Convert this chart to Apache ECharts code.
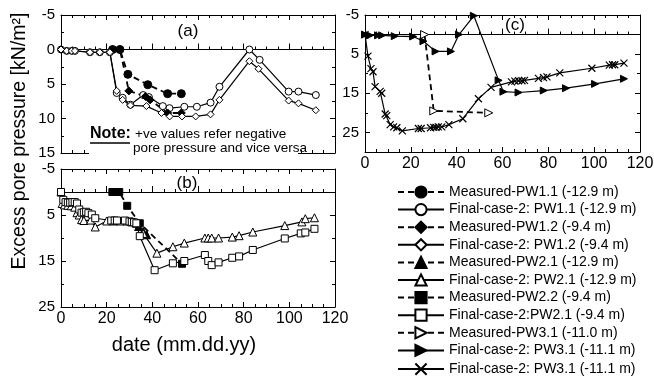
<!DOCTYPE html>
<html>
<head>
<meta charset="utf-8">
<script src="https://cdn.jsdelivr.net/npm/echarts@6/dist/echarts.min.js"></script>
<style>
  html, body { margin: 0; padding: 0; background: #fff; }
  #chart { width: 654px; height: 379px; }
</style>
</head>
<body>
<div id="chart"></div>
<script>
// tick labels
const xTicks = [0, 20, 40, 60, 80, 100, 120];
const yTicksA = [-5, 0, 5, 10, 15];
const yTicksB = [-5, 5, 15, 25];
const yTicksC = [-5, 5, 15, 25];
const yMaxC = 30;

// panel (a)
const measuredPW11 = [[22.6, 0], [25.8, 0], [29.3, 3.6], [38, 5.1], [46.7, 6.4], [52.7, 6.4]];
const finalPW11 = [[0, 0], [2.5, 0.2], [4.7, 0.2], [6.1, 0.2], [12.7, 0.4], [17, 0.4], [21.4, 0.4],
  [24.4, 6.3], [27, 7], [30.4, 8], [36, 6.6], [38.5, 6.9], [44.6, 8.2], [47.5, 8.5], [54, 8.3],
  [59.5, 8.3], [65.5, 7.7], [69.4, 5.4], [82.5, 0], [87, 1.5], [99.7, 6.1], [104, 6.1], [111.6, 6.6]];
const measuredPW12 = [[22.6, 0], [25.8, 0], [29.7, 6], [37, 6.8], [39, 7.3], [46.7, 9.2], [52.7, 9.2]];
const finalPW12 = [[0, 0], [2.5, 0.2], [4.7, 0.2], [6.1, 0.2], [12.7, 0.4], [17, 0.4], [21.4, 0.4],
  [24.4, 6], [27, 7.3], [30.4, 8.1], [37.4, 8.2], [44, 9.2], [47.6, 9.7], [53, 9.7], [59, 9.7],
  [65.5, 9.4], [69.4, 7.3], [82.5, 1.7], [86.5, 2.8], [99.7, 7.4], [104, 7.8], [111.6, 8.8]];

// panel (b)
const measuredPW21 = [[34, 7.5], [36, 8.6], [37.5, 9.3]];
const finalPW21 = [[0, 0], [0.5, 2.5], [1.5, 2.8], [3, 2.9], [4.5, 3], [6, 3.3], [7, 4.5], [8, 5],
  [9, 6], [10, 6.2], [13, 6.1], [15, 7.6], [20, 6.3], [23, 6.3], [26, 6.3], [29, 6.3], [31, 6.5],
  [33, 6.8], [36, 9], [42, 13.3], [49, 11.9], [54, 11.1], [63, 10], [64.5, 10], [66, 10], [69, 10],
  [75, 9.8], [78, 9.5], [84, 8.7], [98, 7.3], [105.5, 6.5], [107, 5.8], [111, 5.6]];
const measuredPW22 = [[22.5, 0], [25.5, 0], [29, 3], [34.5, 6.8], [53, 15.6]];
const finalPW22 = [[0, 0], [1, 1.7], [2, 2.2], [3, 2.3], [4, 2.3], [5, 2.2], [6, 2.2], [7, 2.5],
  [8, 3.8], [9, 4.5], [10, 4.4], [11, 4.3], [12, 4.6], [13.5, 4.9], [15, 5.7], [22, 6.2], [23.5, 6.2],
  [24.5, 6.2], [28, 6.2], [30, 6.4], [31, 6.5], [32, 6.6], [33, 6.8], [34.5, 9.6], [41, 17],
  [49, 15.5], [54, 15], [63, 13.7], [64.5, 15], [66, 15.9], [69, 15.3], [75, 14.3], [78, 14],
  [84, 12.6], [98, 10.1], [105, 9], [107, 8.8], [111, 8]];

// panel (c)
const measuredPW31 = [[26, 0], [30, 19.5], [54, 20]];
const finalPW31tri = [[0, 0], [2.2, 0.2], [5.7, 0.2], [7.5, 0.2], [13, 0.4], [21, 0.5], [25.5, 1.7],
  [30.8, 4.3], [37.5, 4.3], [41, 0], [47.5, -4.8], [58.3, 11.7], [60.4, 14.6], [67, 14.8],
  [78, 14.3], [87.7, 13.7], [100.4, 12.6], [113, 11.3]];
const finalPW31x = [[0, 0], [1.3, 5.5], [2.6, 8.7], [3.5, 9.5], [4.4, 13.3], [6.6, 14.5], [7.3, 15],
  [8.8, 20.3], [9.5, 20.7], [11, 23], [12.5, 23.6], [13.9, 23.8], [16.3, 24.6], [23.3, 24],
  [24.5, 24], [28.6, 23.8], [30, 23.7], [31, 23.7], [32, 23.6], [33.5, 23.6], [36.6, 23],
  [42.7, 21.5], [49.5, 16.4], [55, 13.5], [63.9, 12.1], [65.4, 11.9], [67, 11.8], [68.5, 11.8],
  [69.6, 11.7], [75.7, 11.2], [77.9, 11], [79.4, 10.8], [85, 9.8], [99, 8.6], [106.6, 7.8],
  [108, 7.7], [109, 7.7], [113, 7.3]];

const black = '#000';
const font = 'Liberation Sans, Arial, sans-serif';
const dashed = { color: black, width: 1.8, type: [6, 4] };
const openSym = { color: '#fff', borderColor: black, borderWidth: 1 };
const xPath = 'path://M0 0L10 10M10 0L0 10';

function tickStyle(len) {
  return { show: true, inside: true, length: len, lineStyle: { color: black, width: 1 } };
}

function xAxes(g, labels) {
  const base = {
    type: 'value', gridIndex: g, min: xTicks[0], max: xTicks[xTicks.length - 1], interval: 20,
    splitLine: { show: false },
    minorTick: { show: true, splitNumber: 4, length: 3, lineStyle: { color: black } }
  };
  return [
    Object.assign({}, base, {
      position: 'bottom',
      axisLine: { onZero: false, lineStyle: { color: black, width: 1 } },
      axisTick: tickStyle(5),
      axisLabel: {
        show: labels, color: black, fontSize: 16, fontFamily: font, margin: 4,
        formatter: v => xTicks.indexOf(v) >= 0 ? String(v) : ''
      }
    }),
    Object.assign({}, base, {
      position: 'top',
      axisLine: { onZero: false, lineStyle: { color: black, width: 1 } },
      axisTick: tickStyle(5), axisLabel: { show: false }
    }),
    Object.assign({}, base, {
      position: 'bottom',
      axisLine: { onZero: true, lineStyle: { color: black, width: 1 } },
      axisTick: tickStyle(6), axisLabel: { show: false }
    })
  ];
}

function yAxes(g, ticks, max, interval, minorSplit) {
  const base = {
    type: 'value', gridIndex: g, inverse: true, min: ticks[0], max: max, interval: interval,
    splitLine: { show: false },
    axisLine: { onZero: false, lineStyle: { color: black, width: 1 } },
    axisTick: tickStyle(5),
    minorTick: { show: true, splitNumber: minorSplit, length: 3, lineStyle: { color: black } }
  };
  return [
    Object.assign({}, base, {
      position: 'left',
      axisLabel: {
        color: black, fontSize: 15, fontFamily: font, margin: 6,
        formatter: v => ticks.indexOf(v) >= 0 ? String(v) : ''
      }
    }),
    Object.assign({}, base, { position: 'right', axisLabel: { show: false } })
  ];
}

function ser(name, data, g, opts) {
  return Object.assign({
    name: name, type: 'line', data: data, xAxisIndex: g * 3, yAxisIndex: g * 2,
    symbol: 'circle', symbolSize: 7, animation: false,
    lineStyle: { color: black, width: 1.2 },
    itemStyle: { color: black, borderColor: black, borderWidth: 1 }
  }, opts);
}

const series = [
  ser('Measured-PW1.1 (-12.9 m)', measuredPW11, 0, { symbolSize: 8, lineStyle: dashed }),
  ser('Final-case-2: PW1.1 (-12.9 m)', finalPW11, 0, { itemStyle: openSym }),
  ser('Measured-PW1.2 (-9.4 m)', measuredPW12, 0, { symbol: 'diamond', symbolSize: 8, lineStyle: dashed }),
  ser('Final-case-2: PW1.2 (-9.4 m)', finalPW12, 0, { symbol: 'diamond', itemStyle: openSym }),
  ser('Measured-PW2.1 (-12.9 m)', measuredPW21, 1, { symbol: 'triangle', symbolSize: 8, lineStyle: dashed }),
  ser('Final-case-2: PW2.1 (-12.9 m)', finalPW21, 1, { symbol: 'triangle', symbolSize: 8, itemStyle: openSym }),
  ser('Measured-PW2.2 (-9.4 m)', measuredPW22, 1, { symbol: 'rect', symbolSize: 7, lineStyle: dashed }),
  ser('Final-case-2:PW2.1 (-9.4 m)', finalPW22, 1, { symbol: 'rect', symbolSize: 7, itemStyle: openSym }),
  ser('Measured-PW3.1 (-11.0 m)', measuredPW31, 2, { symbol: 'triangle', symbolRotate: -90, symbolSize: 8, itemStyle: openSym, lineStyle: dashed }),
  ser('Final-case-2: PW3.1 (-11.1 m)', finalPW31tri, 2, { symbol: 'triangle', symbolRotate: -90, symbolSize: 7 }),
  ser('Final-case-2: PW3.1 (-11.1 m)\u200b', finalPW31x, 2, {
    symbol: xPath, symbolSize: 7,
    itemStyle: { color: 'none', borderColor: black, borderWidth: 1.2 }
  })
];

const chart = echarts.init(document.getElementById('chart'), null, { renderer: 'canvas' });
chart.setOption({
  animation: false,
  backgroundColor: '#fff',
  grid: [
    { left: 61, top: 15, width: 274, height: 138, outerBoundsMode: 'none' },
    { left: 61, top: 169, width: 274, height: 138, outerBoundsMode: 'none' },
    { left: 365, top: 15, width: 275, height: 137, outerBoundsMode: 'none' }
  ],
  xAxis: [].concat(xAxes(0, false), xAxes(1, true), xAxes(2, true)),
  yAxis: [].concat(
    yAxes(0, yTicksA, yTicksA[yTicksA.length - 1], 5, 2),
    yAxes(1, yTicksB, yTicksB[yTicksB.length - 1], 10, 2),
    yAxes(2, yTicksC, yMaxC, 10, 2)
  ),
  legend: {
    orient: 'vertical', left: 397, top: 185, padding: 0,
    itemWidth: 46, itemHeight: 14, itemGap: 3.6,
    selectedMode: false,
    textStyle: { color: black, fontSize: 14, fontFamily: font },
    data: series.map(s => s.name),
    formatter: n => n.replace('\u200b', '')
  },
  graphic: [
    { type: 'rect', z: 100, shape: { x: 89, y: 125, width: 209, height: 31 }, style: { fill: '#fff' } },
    { type: 'text', z: 101, style: { text: 'Note:', x: 90, y: 134, font: 'bold 16px ' + font, fill: black, textVerticalAlign: 'middle' } },
    { type: 'line', z: 101, shape: { x1: 90, y1: 143, x2: 130, y2: 143 }, style: { stroke: black, lineWidth: 1.3 } },
    { type: 'text', z: 101, style: { text: '+ve values refer negative', x: 135, y: 134, font: '13.5px ' + font, fill: black, textVerticalAlign: 'middle' } },
    { type: 'text', z: 101, style: { text: 'pore pressure and vice versa', x: 133, y: 148, font: '13.5px ' + font, fill: black, textVerticalAlign: 'middle' } },
    { type: 'text', z: 101, style: { text: '(a)', x: 188, y: 31, font: '17px ' + font, fill: black, textAlign: 'center', textVerticalAlign: 'middle' } },
    { type: 'text', z: 101, style: { text: '(b)', x: 187, y: 183, font: '17px ' + font, fill: black, textAlign: 'center', textVerticalAlign: 'middle' } },
    { type: 'text', z: 101, style: { text: '(c)', x: 515, y: 25, font: '17px ' + font, fill: black, textAlign: 'center', textVerticalAlign: 'middle' } },
    { type: 'text', z: 101, x: 20, y: 141, rotation: Math.PI / 2, style: { text: 'Excess pore pressure [kN/m²]', x: 0, y: 0, font: '19.5px ' + font, fill: black, textAlign: 'center', textVerticalAlign: 'middle' } },
    { type: 'text', z: 101, style: { text: 'date (mm.dd.yy)', x: 184, y: 345, font: '20px ' + font, fill: black, textAlign: 'center', textVerticalAlign: 'middle' } }
  ],
  series: series
});
</script>
</body>
</html>
